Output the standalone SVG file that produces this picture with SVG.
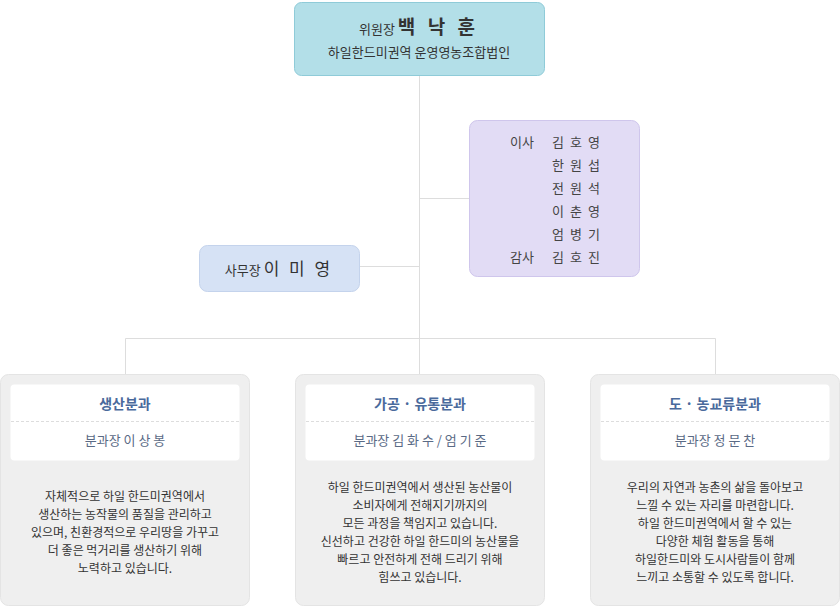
<svg xmlns="http://www.w3.org/2000/svg" width="840" height="606" viewBox="0 0 840 606">
<style>
text{font-family:"Noto Sans CJK KR","Noto Sans",sans-serif;fill:#333;text-anchor:middle}
.ln{stroke:#ddd;stroke-width:1;fill:none}
.dept{fill:#efefef;stroke:#e4e4e4}
.inner{fill:#fff}
.dash{stroke:#ddd;stroke-dasharray:3,2}
.t{font-size:14px;font-weight:bold;fill:#4a6a9c}
.h{font-size:13px;fill:#5a6a85}
.d{font-size:12px;fill:#333}
.b{font-size:13px;fill:#444}
.bn{font-size:13px;fill:#444;letter-spacing:6px}
</style>
<g id="connectors">
<path class="ln" d="M419.5 76V374M419.5 198.5H469M359 266.5H419.5M125.5 374V338.5H715.5V374"/>
</g>
<g id="chair">
<rect x="294.5" y="2.5" width="250" height="73" rx="7" fill="#b3dfe8" stroke="#8fcbd8"/>
<text x="419" y="34"><tspan font-size="13">위원장 </tspan><tspan font-size="19" font-weight="bold" letter-spacing="4">백 낙 훈</tspan></text>
<text x="419" y="57" font-size="13">하일한드미권역  운영영농조합법인</text>
</g>
<g id="board">
<rect x="469.5" y="120.5" width="170" height="156" rx="8" fill="#e2dcf5" stroke="#cfc6ec"/>
<text class="b" x="522" y="147">이사</text>
<text class="b" x="522" y="262">감사</text>
<text class="bn" x="579" y="147">김호영</text>
<text class="bn" x="579" y="170">한원섭</text>
<text class="bn" x="579" y="193">전원석</text>
<text class="bn" x="579" y="216">이춘영</text>
<text class="bn" x="579" y="239">엄병기</text>
<text class="bn" x="579" y="262">김호진</text>
</g>
<g id="secretary">
<rect x="199.5" y="245.5" width="160" height="46" rx="8" fill="#d6e2f5" stroke="#c4d3ec"/>
<text x="279" y="275"><tspan font-size="13">사무장 </tspan><tspan font-size="17" letter-spacing="3">이 미 영</tspan></text>
</g>
<g id="dept1">
<rect class="dept" x="0.5" y="374.5" width="249" height="231" rx="8"/>
<rect class="inner" x="10.5" y="384.5" width="229" height="76" rx="4"/>
<line class="dash" x1="11" y1="421.5" x2="239" y2="421.5"/>
<text class="t" x="125" y="409">생산분과</text>
<text class="h" x="125" y="445">분과장    이 상 봉</text>
<text class="d" x="125" y="501">자체적으로 하일 한드미권역에서</text>
<text class="d" x="125" y="519">생산하는 농작물의 품질을 관리하고</text>
<text class="d" x="125" y="537">있으며, 친환경적으로 우리땅을 가꾸고</text>
<text class="d" x="125" y="555">더 좋은 먹거리를 생산하기 위해</text>
<text class="d" x="125" y="573">노력하고 있습니다.</text>
</g>
<g id="dept2">
<rect class="dept" x="295.5" y="374.5" width="249" height="231" rx="8"/>
<rect class="inner" x="305.5" y="384.5" width="229" height="76" rx="4"/>
<line class="dash" x1="306" y1="421.5" x2="534" y2="421.5"/>
<text class="t" x="420" y="409">가공 · 유통분과</text>
<text class="h" x="420" y="445">분과장    김 화 수 / 엄 기 준</text>
<text class="d" x="420" y="492">하일 한드미권역에서 생산된 농산물이</text>
<text class="d" x="420" y="510">소비자에게 전해지기까지의</text>
<text class="d" x="420" y="528">모든 과정을 책임지고 있습니다.</text>
<text class="d" x="420" y="546">신선하고 건강한 하일 한드미의 농산물을</text>
<text class="d" x="420" y="564">빠르고 안전하게 전해 드리기 위해</text>
<text class="d" x="420" y="582">힘쓰고 있습니다.</text>
</g>
<g id="dept3">
<rect class="dept" x="590.5" y="374.5" width="249" height="231" rx="8"/>
<rect class="inner" x="600.5" y="384.5" width="229" height="76" rx="4"/>
<line class="dash" x1="601" y1="421.5" x2="829" y2="421.5"/>
<text class="t" x="715" y="409">도 · 농교류분과</text>
<text class="h" x="715" y="445">분과장    정 문 찬</text>
<text class="d" x="715" y="492">우리의 자연과 농촌의 삶을 돌아보고</text>
<text class="d" x="715" y="510">느낄 수 있는 자리를 마련합니다.</text>
<text class="d" x="715" y="528">하일 한드미권역에서 할 수 있는</text>
<text class="d" x="715" y="546">다양한 체험 활동을 통해</text>
<text class="d" x="715" y="564">하일한드미와 도시사람들이 함께</text>
<text class="d" x="715" y="582">느끼고 소통할 수 있도록 합니다.</text>
</g>
</svg>
